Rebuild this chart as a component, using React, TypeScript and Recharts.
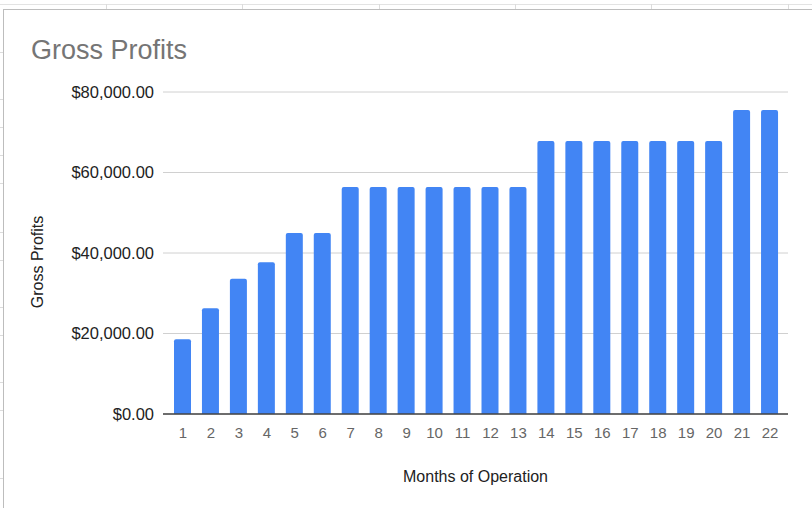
import React from "react";
import { BarChart, Bar, CartesianGrid, XAxis, YAxis, Label } from "recharts";

const months = ["1", "2", "3", "4", "5", "6", "7", "8", "9", "10", "11", "12", "13", "14", "15", "16", "17", "18", "19", "20", "21", "22"];
const grossProfits = [
  18600, 26300, 33600, 37700, 45000, 45000, 56400, 56400, 56400, 56400, 56400,
  56400, 56400, 67800, 67800, 67800, 67800, 67800, 67800, 67800, 75500, 75500,
];
const yTicks = [0, 20000, 40000, 60000, 80000];

const data = months.map((m, i) => ({ month: m, profit: grossProfits[i] }));

// spreadsheet cell edges peeking out behind the chart card
const colEdges = [106, 242, 379, 515, 651, 788];
const rowEdges = [52, 99, 127, 155, 183, 232, 260, 307, 335, 382, 410, 478];

const FONT = '"Liberation Sans", Arial, sans-serif';

const money = (v: number) =>
  "$" + v.toLocaleString("en-US", { minimumFractionDigits: 2, maximumFractionDigits: 2 });

const YTitle = (props: any) => {
  const vb = props.viewBox || { x: 0, y: 0, height: 0 };
  const cx = vb.x + 37;
  const cy = vb.y + vb.height / 2 + 9;
  return (
    <text
      x={cx}
      y={cy}
      transform={`rotate(-90 ${cx} ${cy})`}
      textAnchor="middle"
      dominantBaseline="central"
      fill="#222"
      fontSize={16}
      fontFamily={FONT}
    >
      Gross Profits
    </text>
  );
};

export default function App() {
  return (
    <div
      style={{
        position: "absolute",
        left: 0,
        top: 0,
        width: 812,
        height: 508,
        overflow: "hidden",
        background: "#fff",
        fontFamily: FONT,
      }}
    >
      {/* top strip of sheet */}
      <div style={{ position: "absolute", left: 0, top: 4, width: 812, height: 1, background: "#e3e3e3" }} />
      {colEdges.map((x) => (
        <div key={x} style={{ position: "absolute", left: x, top: 4, width: 1, height: 6, background: "#dcdcdc" }} />
      ))}
      {rowEdges.map((y) => (
        <div key={y} style={{ position: "absolute", left: 0, top: y, width: 3, height: 1, background: "#dcdcdc" }} />
      ))}
      {/* chart card */}
      <div
        style={{
          position: "absolute",
          left: 3,
          top: 9,
          width: 840,
          height: 540,
          border: "1px solid #bdbdbd",
          background: "#fff",
        }}
      />
      <div
        style={{
          position: "absolute",
          left: 31,
          top: 37,
          fontSize: 27,
          lineHeight: "26px",
          color: "#757575",
          whiteSpace: "nowrap",
        }}
      >
        Gross Profits
      </div>
      <div style={{ position: "absolute", left: 0, top: 0 }}>
        <BarChart
          width={812}
          height={508}
          data={data}
          margin={{ top: 92, right: 24, left: 0, bottom: 0 }}
          barCategoryGap={0}
        >
          <CartesianGrid vertical={false} stroke="#d0d0d0" strokeWidth={1} />
          <XAxis
            dataKey="month"
            height={94}
            padding={{ left: 6, right: 4 }}
            tickLine={false}
            tickSize={0}
            tickMargin={13}
            axisLine={{ stroke: "#444", strokeWidth: 1.5 }}
            interval={0}
            tick={{ fill: "#666", fontSize: 15, fontFamily: FONT }}
          >
            <Label
              value="Months of Operation"
              position="insideBottom"
              offset={26}
              fill="#222"
              fontSize={16}
              fontFamily={FONT}
            />
          </XAxis>
          <YAxis
            width={163}
            domain={[0, 80000]}
            ticks={yTicks}
            tickFormatter={money}
            axisLine={false}
            tickLine={false}
            tickSize={0}
            tickMargin={9}
            tick={{ fill: "#222", fontSize: 16.5, fontFamily: FONT }}
          >
            <Label content={<YTitle />} />
          </YAxis>
          <Bar
            dataKey="profit"
            fill="#4285F4"
            barSize={17}
            radius={[2, 2, 0, 0]}
            isAnimationActive={false}
          />
        </BarChart>
      </div>
    </div>
  );
}
